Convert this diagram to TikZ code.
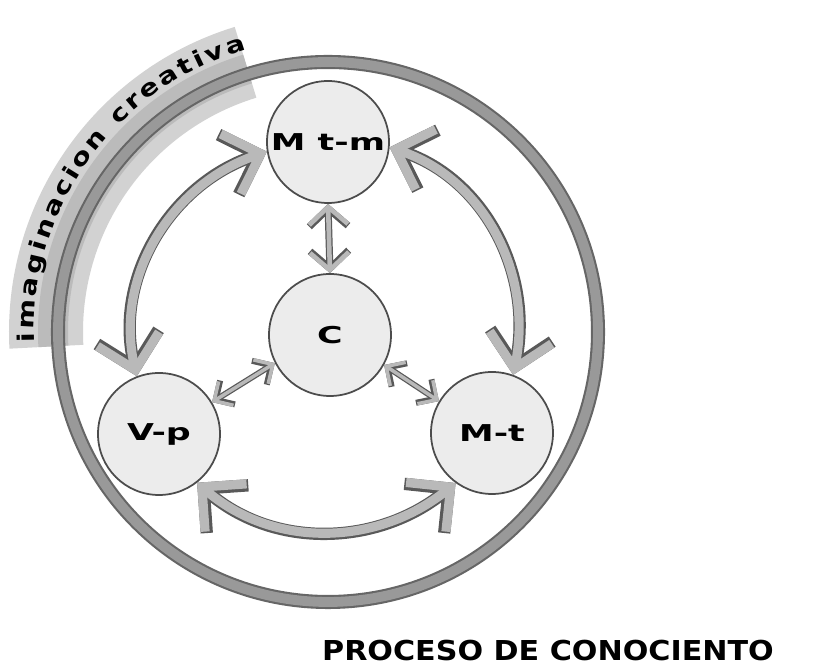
\documentclass[tikz,border=0pt]{standalone}
\usepackage{fontspec}
\usepackage{tikz}
\usetikzlibrary{arrows.meta}
\usetikzlibrary{decorations.text}
\newfontfamily\labelfont{DejaVu Sans}[FakeStretch=1.5]
\newfontfamily\titlefont{DejaVu Sans}[FakeStretch=1.1]
\newfontfamily\arcfont{DejaVu Sans}[FakeStretch=1.25]

\begin{document}
\begin{tikzpicture}[
    idea/.style={circle, draw=black!70, line width=0.5pt, fill=gray!15,
        minimum size=1.22cm, inner sep=0pt,
        font=\labelfont\bfseries\fontsize{6.6}{8}\selectfont},
    bigflow/.style={draw=gray!55, line width=2.6pt,
        preaction={draw=black!65, line width=3.5pt},
        {Straight Barb[length=9pt,width=18pt]}-{Straight Barb[length=9pt,width=18pt]}},
    smallflow/.style={draw=gray!55, line width=1.3pt,
        preaction={draw=black!65, line width=2pt},
        {Straight Barb[length=5pt,width=11pt]}-{Straight Barb[length=5pt,width=11pt]}},
    tinyflow/.style={draw=gray!55, line width=1pt,
        preaction={draw=black!65, line width=1.7pt},
        {Straight Barb[length=4pt,width=8pt]}-{Straight Barb[length=4pt,width=8pt]}}
]
    \useasboundingbox (0,0) rectangle (8.39,6.64);
    \coordinate (centre) at (3.28,3.32);

    % Band behind the arc text
    \begin{scope}[shift={(centre)}]
        \fill[gray!35] (107:2.45) arc[start angle=107, end angle=183, radius=2.45]
            -- (183:3.19) arc[start angle=183, end angle=107, radius=3.19] -- cycle;
        \fill[gray!60, opacity=0.7] (107:2.6) arc[start angle=107, end angle=183, radius=2.6]
            -- (183:2.9) arc[start angle=183, end angle=107, radius=2.9] -- cycle;
        \path[decorate, decoration={text along path,
            text={|\fontsize{6.5}{7}\selectfont\arcfont\bfseries|imaginacion creativa},
            text align={fit to path}}]
            (182:2.94) arc[start angle=182, end angle=106, radius=2.94];
    \end{scope}

    % Outer ring
    \draw[black!60, line width=4pt] (centre) circle (2.70);
    \draw[gray!80, line width=2.8pt] (centre) circle (2.70);

    % Circles
    \node[idea] (mtm) at (3.28,5.22) {M t-m};
    \node[idea] (c) at (3.30,3.29) {C};
    \node[idea] (vp) at (1.59,2.30) {V-p};
    \node[idea] (mt) at (4.92,2.31) {M-t};

    % Arrows
    \draw[bigflow] (mtm.189) to[out=198.7, in=103] (vp.111);
    \draw[bigflow] (mtm.355) to[out=-18.5, in=78.5] (mt.70);
    \draw[bigflow] (vp.308) to[out=319, in=219] (mt.234);
    \draw[smallflow] (mtm.south) -- (c.north);
    \draw[tinyflow] (c.207) -- (vp.31);
    \draw[tinyflow] (c.331) -- (mt.149);

    % Title
    \node[font=\titlefont\bfseries\fontsize{7.8}{9}\selectfont] (title) at (5.48,0.13) {PROCESO DE CONOCIENTO};
\end{tikzpicture}
\end{document}
